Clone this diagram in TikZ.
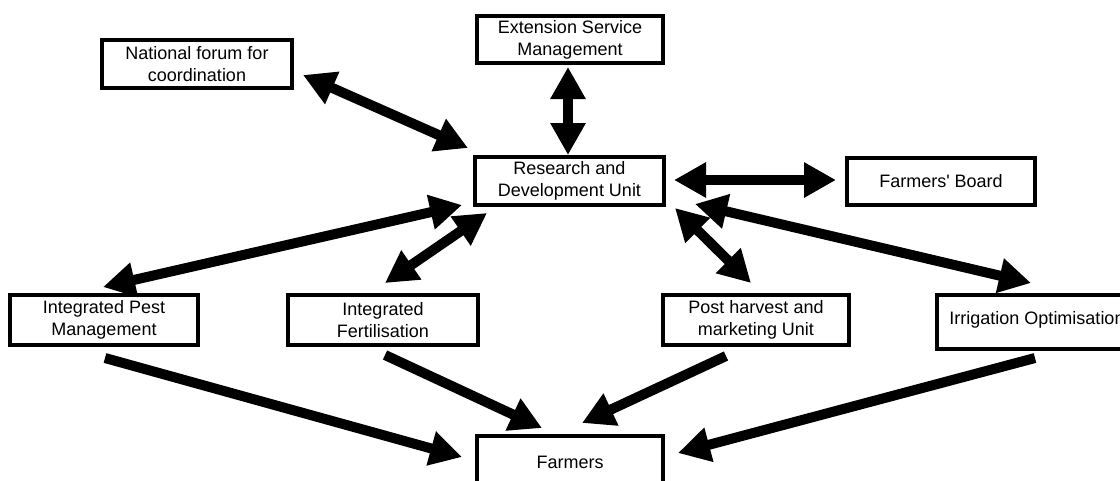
\documentclass[tikz,border=0pt]{standalone}
\usepackage{fontspec}
\setmainfont{Liberation Sans}
\usetikzlibrary{arrows.meta}
\tikzset{
  box/.style={draw=black, line width=3pt, fill=white, rectangle, inner sep=0pt,
    align=center, font=\fontsize{13.5}{16.5}\selectfont},
  link/.style={line width=7.5pt, {Triangle[length=24pt,width=25pt]}-{Triangle[length=24pt,width=25pt]}},
  flow/.style={line width=7.5pt, -{Triangle[length=24pt,width=25pt]}}
}
\begin{document}
\begin{tikzpicture}[x=0.75pt,y=-0.75pt]
\useasboundingbox (0,0) rectangle (1120,480);
\node[box, minimum width=142.5pt, minimum height=36pt] (nf) at (197,64) {National forum for\\coordination};
\node[box, minimum width=139.5pt, minimum height=35pt] (es) at (570,39.5) {Extension Service\\Management};
\node[box, minimum width=142pt, minimum height=36pt] (rd) at (569.5,181) {Research and\\Development Unit};
\node[box, minimum width=141pt, minimum height=35pt] (fb) at (941,181.5) {Farmers\textquotesingle{} Board};
\node[box, minimum width=141pt, minimum height=37.5pt] (ipm) at (104,320) {Integrated Pest\\Management};
\node[box, minimum width=142.5pt, minimum height=37.5pt] (if) at (383,320) {Integrated\\Fertilisation};
\node[box, minimum width=140pt, minimum height=37.5pt] (ph) at (756,320) {Post harvest and\\marketing Unit};
\node[box, minimum width=150pt, minimum height=41pt] (io) at (1037,322) {\raisebox{6pt}{Irrigation Optimisation}};
\node[box, minimum width=139.5pt, minimum height=39pt] (fa) at (570,462) {Farmers};

\draw[link] ([shift={(106,11)}]nf.center) -- ([shift={(-101.5,-33)}]rd.center);
\draw[link] ([shift={(-2,27.5)}]es.center) -- ([shift={(-1.5,-26)}]rd.center);
\draw[link] ([shift={(104.5,-1)}]rd.center) -- ([shift={(-105,-1.5)}]fb.center);
\draw[link] ([shift={(-107.5,24)}]rd.center) -- ([shift={(-1,-33)}]ipm.center);
\draw[link] ([shift={(-82.5,32)}]rd.center) -- ([shift={(2,-37)}]if.center);
\draw[link] ([shift={(105.5,27)}]rd.center) -- ([shift={(-5,-37)}]ph.center);
\draw[link] ([shift={(125.5,23)}]rd.center) -- ([shift={(-6,-39)}]io.center);

\draw[flow] ([shift={(1,38)}]ipm.center) -- ([shift={(-108,-5)}]fa.center);
\draw[flow] ([shift={(2,35)}]if.center) -- ([shift={(-28,-34)}]fa.center);
\draw[flow] ([shift={(-30,36)}]ph.center) -- ([shift={(12,-39)}]fa.center);
\draw[flow] ([shift={(-2,36)}]io.center) -- ([shift={(108,-9)}]fa.center);
\end{tikzpicture}
\end{document}
